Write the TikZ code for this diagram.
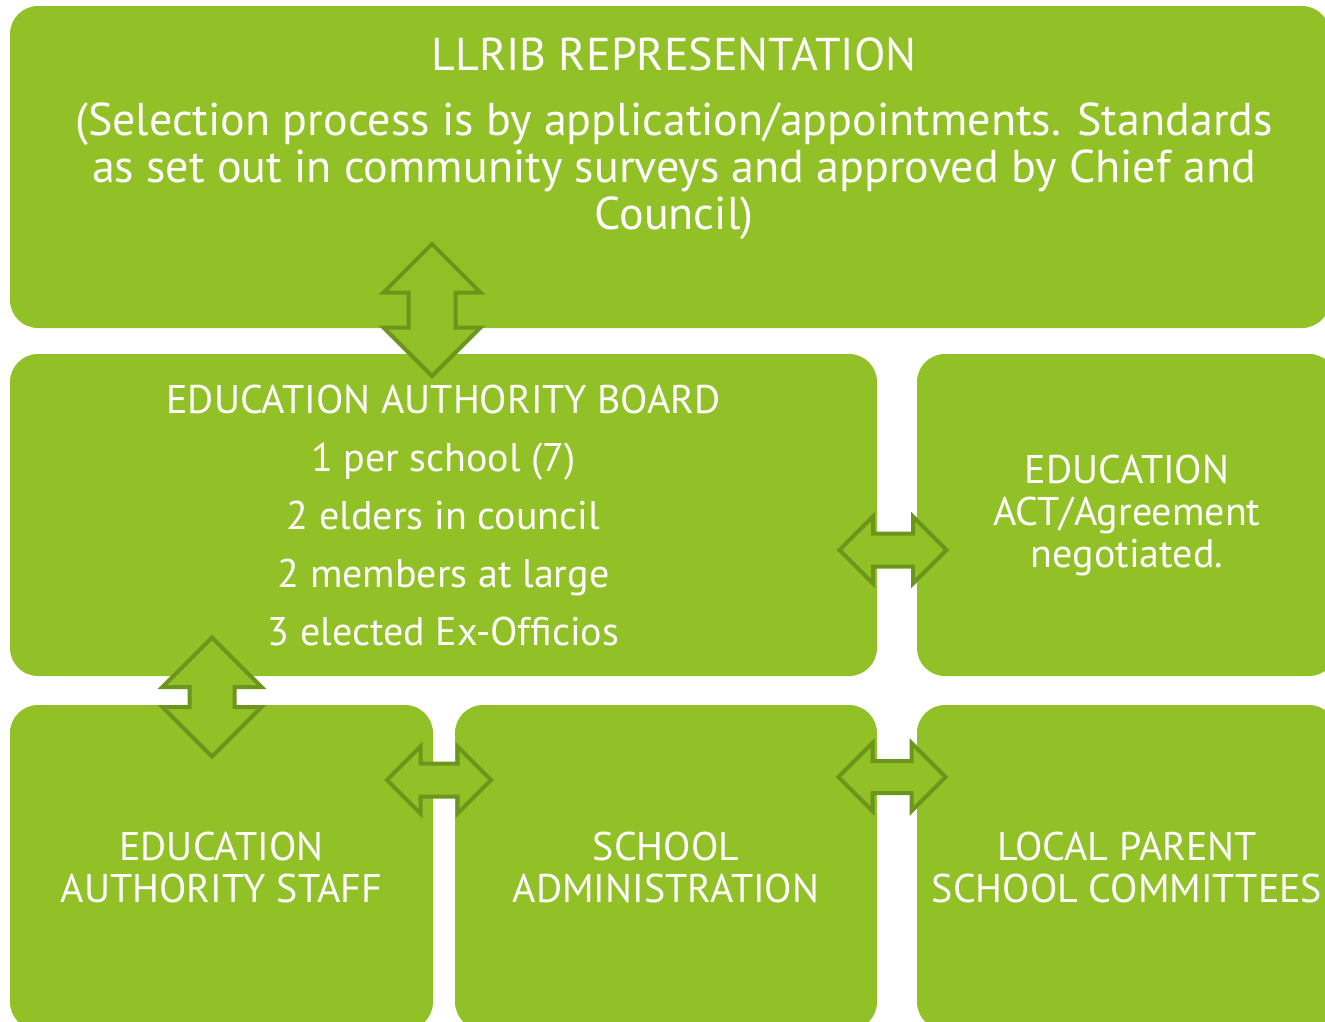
\documentclass[tikz,border=0pt]{standalone}
\usepackage{fontspec}
\setmainfont{PT Sans}
\usetikzlibrary{shapes.arrows}
\definecolor{leaf}{HTML}{92C127}
\definecolor{leafdark}{HTML}{6C951B}
\tikzstyle{box} = [rectangle, rounded corners=28pt, fill=leaf, text=white, align=center, inner sep=0pt, font=\fontsize{40}{42}\selectfont]
\tikzstyle{dblarrow} = [double arrow, double arrow tip angle=90, draw=leafdark, line width=4pt, fill=leaf, inner xsep=0pt]

\begin{document}
\begin{tikzpicture}[x=1pt, y=-1pt]
\useasboundingbox (0,0) rectangle (1325,1021);
\clip (0,0) rectangle (1325,1021);
\node (llrib) [box, minimum width=1320, minimum height=322] at (670,167) {};
\node (llribtxt) [box, fill=none, anchor=north, font=\fontsize{46}{47}\selectfont] at (674,38) {LLRIB REPRESENTATION\\[18pt](Selection process is by application/appointments. Standards\\as set out in community surveys and approved by Chief and\\Council)};
\node (board) [box, minimum width=867, minimum height=322, font=\fontsize{40}{58}\selectfont] at (443.5,515) {EDUCATION AUTHORITY BOARD\\1 per school (7)\\2 elders in council\\2 members at large\\3 elected Ex-Officios};
\node (act) [box, minimum width=420, minimum height=322] at (1127,515) {EDUCATION\\ACT/Agreement\\negotiated.};
\node (staff) [box, minimum width=423, minimum height=325] at (221.5,867.5) {EDUCATION\\AUTHORITY STAFF};
\node (admin) [box, minimum width=422, minimum height=325] at (666,867.5) {SCHOOL\\ADMINISTRATION};
\node (parent) [box, minimum width=420, minimum height=325] at (1127,867.5) {LOCAL PARENT\\SCHOOL COMMITTEES};
% links between the boxes
\node (llribboard) [dblarrow, rotate=90, minimum height=132, inner ysep=21.5pt, double arrow head extend=25] at (432,310) {};
\node (boardstaff) [dblarrow, rotate=90, minimum height=119, inner ysep=20.5pt, double arrow head extend=27] at (212,697) {};
\node (boardact) [dblarrow, minimum height=107, inner ysep=14.5pt, double arrow head extend=17] at (893,550) {};
\node (staffadmin) [dblarrow, minimum height=104, inner ysep=14.5pt, double arrow head extend=17] at (439,780) {};
\node (adminparent) [dblarrow, minimum height=107, inner ysep=14pt, double arrow head extend=18] at (892,777) {};
\end{tikzpicture}
\end{document}
